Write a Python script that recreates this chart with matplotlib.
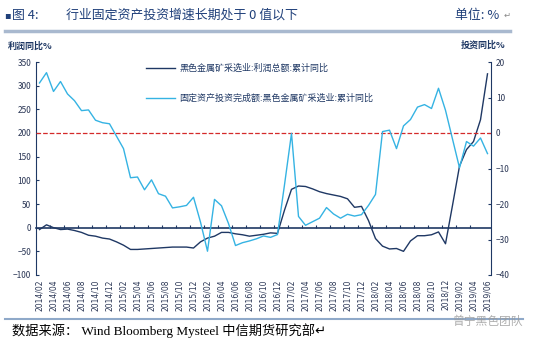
import matplotlib
matplotlib.use('Agg')
import matplotlib.pyplot as plt
from matplotlib.lines import Line2D
import pandas as pd

plt.rcParams['font.family'] = ['Noto Sans CJK SC', 'DejaVu Sans']

# monthly categories 2014/02 .. 2019/06
months = pd.period_range('2014-02', '2019-06', freq='M')
month_labels = [m.strftime('%Y/%m') for m in months]

# 黑色金属矿采选业:利润总额:累计同比 (left axis, %)
profit = [-4, 6, 0, -4, -3, -6, -10, -16, -18, -22, -24, -30, -37, -46, -46, -45,
          -44, -43, -42, -41, -41, -41, -43, -30, -22, -18, -10, -10, -13, -15, -18,
          -16, -14, -11, -12, 37, 81, 88, 87, 82, 76, 72, 69, 66, 61, 43, 45, 15,
          -23, -39, -45, -44, -50, -28, -17, -17, -15, -9, -34, 47, 130, 165, 182,
          228, 325]

# 固定资产投资完成额:黑色金属矿采选业:累计同比 (right axis, %)
invest = [14.1, 17.0, 11.7, 14.5, 11.0, 9.1, 6.3, 6.5, 3.6, 2.9, 2.6, -0.9, -4.4,
          -12.6, -12.4, -16.0, -13.2, -17.1, -17.8, -21.1, -20.8, -20.4, -18.1,
          -25.1, -33.3, -18.7, -20.5, -25.5, -31.7, -30.9, -30.4, -29.8, -29.0,
          -29.4, -28.6, -14.6, -0.1, -23.5, -26.0, -25.0, -24.0, -21.0, -22.8,
          -24.0, -22.9, -23.4, -23.0, -20.4, -17.3, 0.4, 0.8, -4.4, 2.0, 3.8, 7.3,
          8.0, 6.9, 12.6, 6.4, -1.7, -9.8, -2.4, -3.7, -1.4, -5.8]

profit_name = '黑色金属矿采选业:利润总额:累计同比'
invest_name = '固定资产投资完成额:黑色金属矿采选业:累计同比'

navy = '#1f3864'
light = '#35b3e3'
tick_col = '#2a3655'
W, H = 535, 345

fig = plt.figure(figsize=(5.35, 3.45), dpi=100)
ax = fig.add_axes([36 / W, 1 - 275 / H, 455 / W, 213 / H])
ax2 = ax.twinx()

x = list(range(len(months)))
l1, = ax.plot(x, profit, color=navy, lw=1.0, zorder=3)
l2, = ax2.plot(x, invest, color=light, lw=1.0, zorder=3)
ax2.axhline(0, color='#d42a2a', ls='--', lw=0.9, zorder=2)

ax.set_xlim(-0.5, len(months) - 0.5)
ax.set_ylim(-100, 350)
ax.set_yticks(range(-100, 351, 50))
ax2.set_ylim(-40, 20)
ax2.set_yticks(range(-40, 21, 10))

ax.spines['top'].set_visible(False)
ax2.spines['top'].set_visible(False)
ax2.spines['bottom'].set_visible(False)
ax2.spines['left'].set_visible(False)
ax.spines['right'].set_visible(False)
ax.spines['left'].set_color(navy)
ax2.spines['right'].set_color(navy)
ax.spines['bottom'].set_position(('data', 0))
ax.spines['bottom'].set_color(navy)
ax.spines['bottom'].set_linewidth(1.2)

# ticks on zero line every two months, at category boundaries
ax.set_xticks([i - 0.5 for i in range(0, len(months) - 1, 2)][1:])
ax.tick_params(axis='x', direction='in', length=2.5, color=navy, labelbottom=False)
ax.tick_params(axis='y', direction='in', length=2.5, color=navy, labelsize=6, labelcolor=tick_col)
ax2.tick_params(axis='y', direction='in', length=2.5, color=navy, labelsize=6, labelcolor=tick_col)

# date labels at bottom
sec = ax.secondary_xaxis(0)
sec.set_xticks(x[::2])
sec.set_xticklabels(month_labels[::2], rotation=90, fontsize=5.5, color=tick_col,
                    family=['DejaVu Sans'])
sec.tick_params(length=0, pad=3)
sec.spines['bottom'].set_visible(False)

leg = ax2.legend([l1, l2], [profit_name, invest_name], loc='upper left',
                 bbox_to_anchor=(102 / 455, 1.03), frameon=False, fontsize=6.5,
                 handlelength=3.2, handletextpad=0.5, labelspacing=2.3)
for t in leg.get_texts():
    t.set_color(navy)

# axis titles
fig.text(8 / W, 1 - 46 / H, '利润同比%', fontsize=6.5, weight='bold', color=navy, va='center')
fig.text(505 / W, 1 - 45 / H, '投资同比%', fontsize=6.5, weight='bold', color=navy,
         va='center', ha='right')

# header
title_col = '#20407a'
fig.text(4 / W, 1 - 15 / H, '▪', fontsize=7, color=title_col, va='center',
         family=['DejaVu Sans'])
fig.text(12 / W, 1 - 15 / H, '图 4:', fontsize=9.3, color=title_col, va='center')
fig.text(66 / W, 1 - 15 / H, '行业固定资产投资增速长期处于 0 值以下', fontsize=9.3,
         color=title_col, va='center')
fig.text(455 / W, 1 - 15 / H, '单位: %', fontsize=9.3, color=title_col, va='center')
fig.text(504 / W, 1 - 15 / H, '↵', fontsize=6, color='#888888', va='center',
         family=['DejaVu Sans'])
fig.add_artist(Line2D([5 / W, 510 / W], [1 - 31 / H] * 2, lw=2.5, color='#a9b9cf'))

# footer
fig.add_artist(Line2D([5 / W, 523 / W], [1 - 319 / H] * 2, lw=1.5, color='#8fa9c9'))
fig.text(12 / W, 1 - 331 / H, '数据来源： Wind Bloomberg Mysteel 中信期货研究部↵',
         fontsize=9.5, color='black', va='center',
         family=['Liberation Serif', 'Noto Sans CJK SC', 'DejaVu Sans'])
fig.text(452 / W, 1 - 321 / H, '曾宁黑色团队', fontsize=8.5, color='#9a9a9a', va='center',
         alpha=0.8)

fig.savefig('out.png', dpi=100)
